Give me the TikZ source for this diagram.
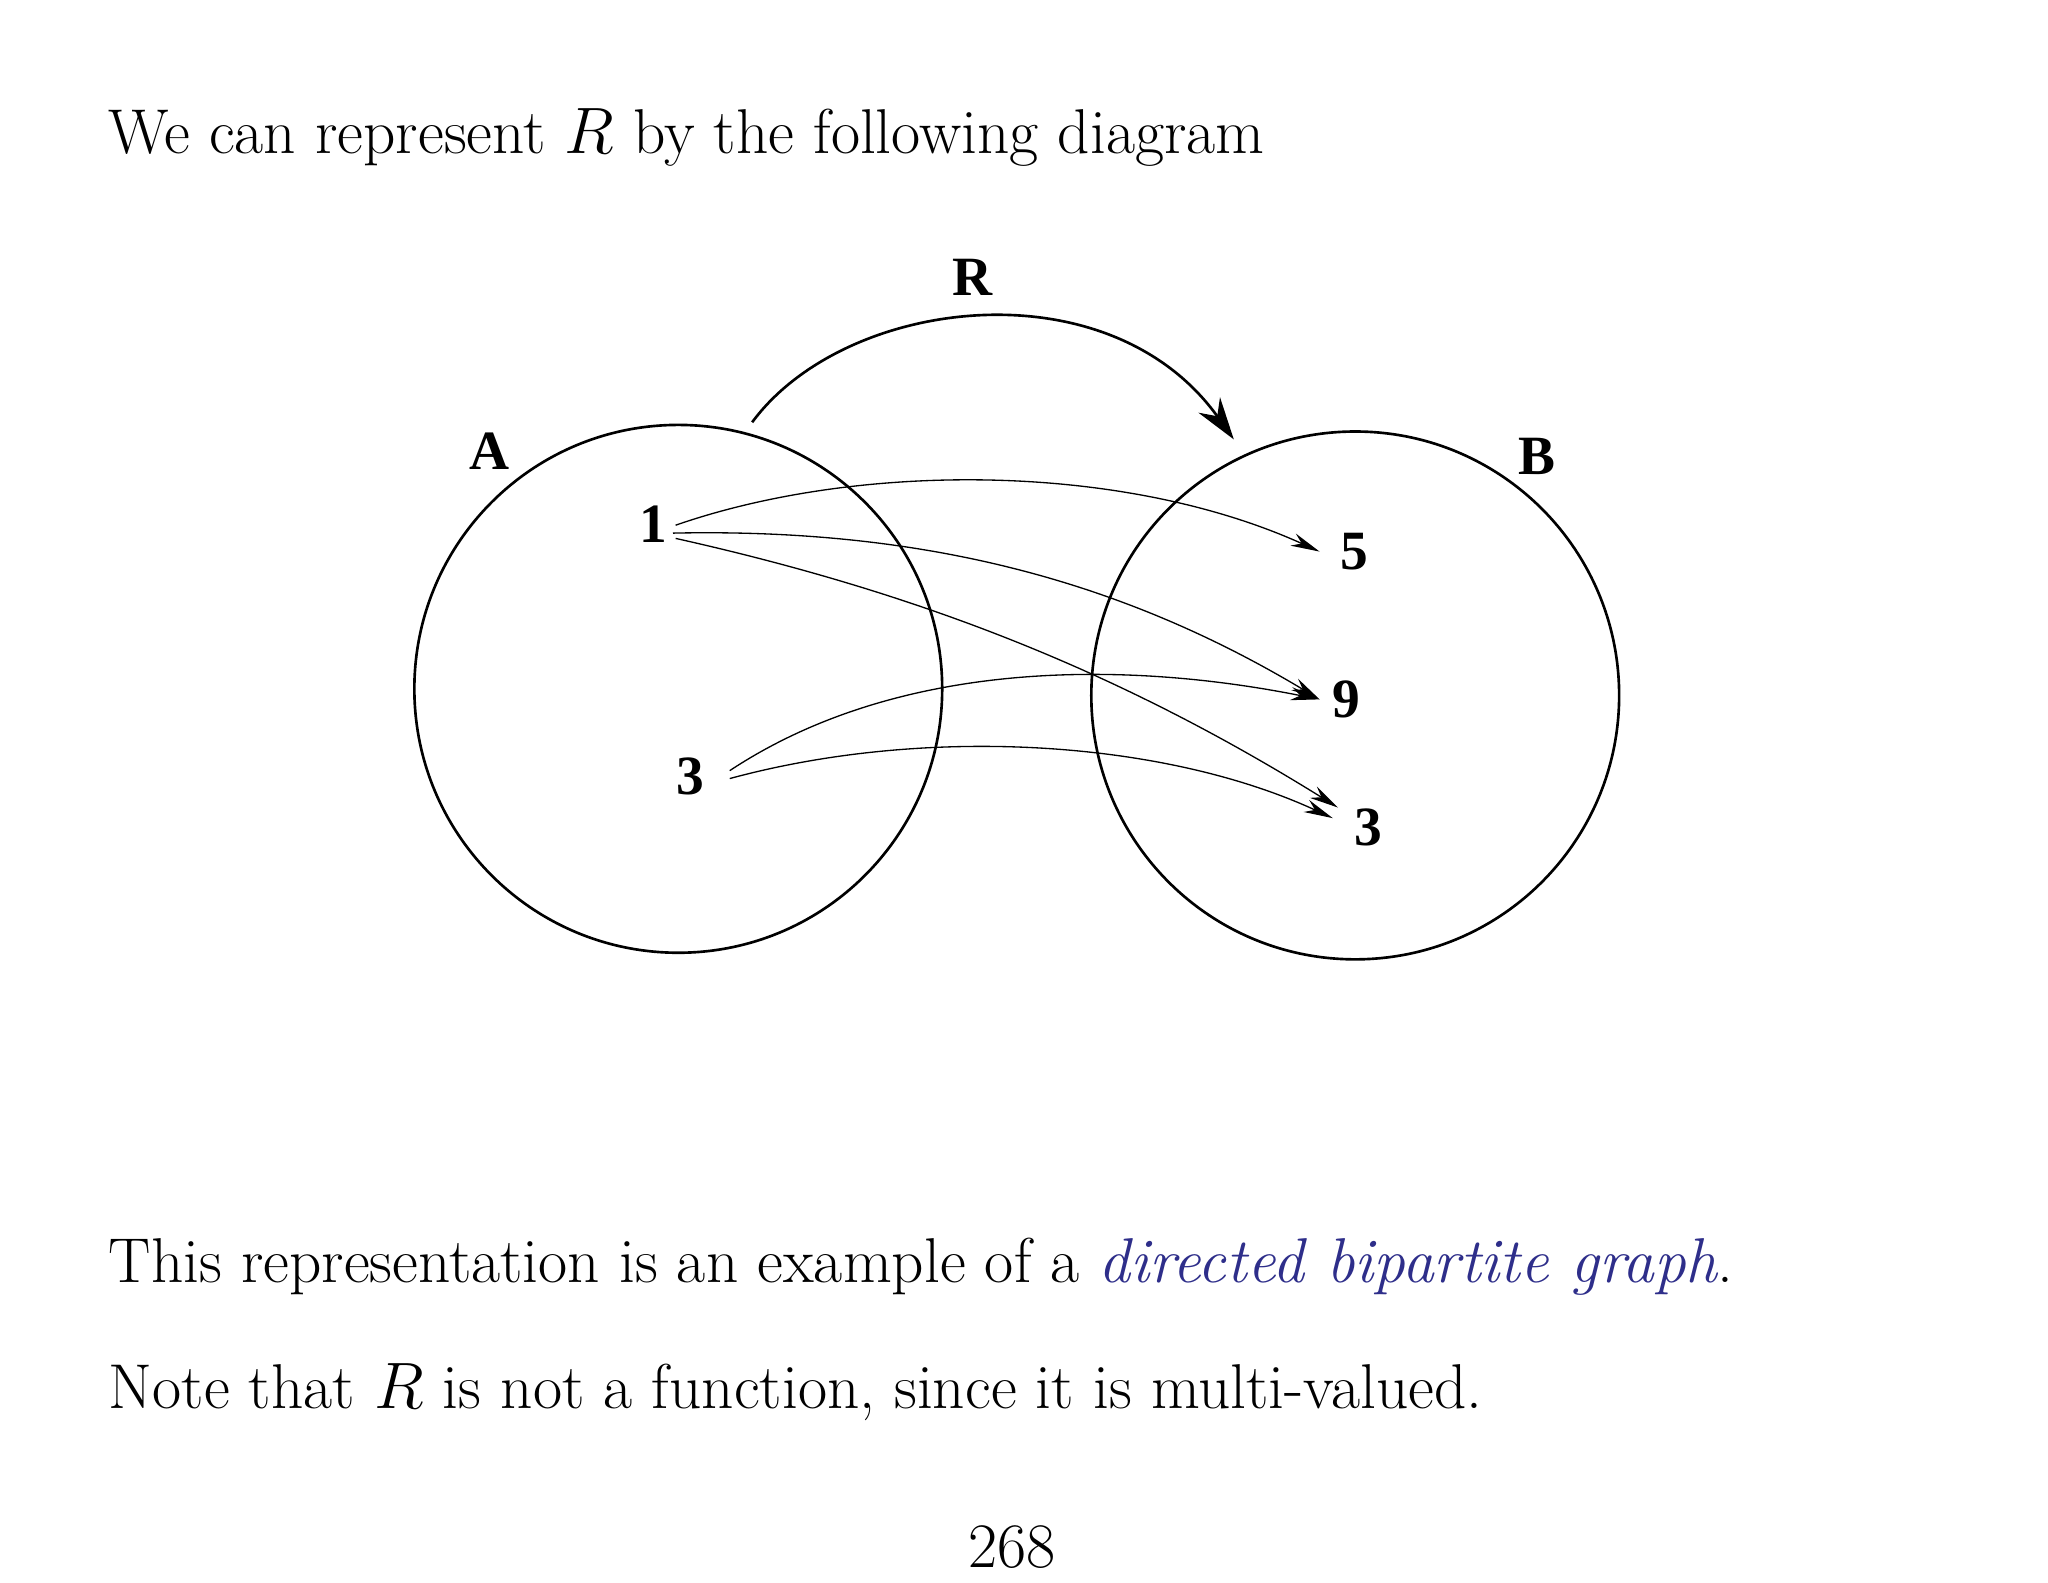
\documentclass[tikz,border=0pt]{standalone}
\usepackage{fontspec}
\newfontfamily\timesb{Liberation Serif}
\usetikzlibrary{arrows.meta}
\definecolor{linkblue}{RGB}{46,46,138}
\begin{document}
\begin{tikzpicture}[x=0.5pt,y=-0.5pt,
  txt/.style={anchor=base west,inner sep=0,font=\fontsize{24}{28}\selectfont},
  lab/.style={inner sep=1pt,font=\timesb\bfseries\fontsize{21}{24}\selectfont},
  set/.style={draw,circle,line width=1pt,minimum size=200pt,inner sep=0},
  rel/.style={line width=0.5pt,-{Stealth[length=11pt,width=5pt]}}]
\useasboundingbox (0,0) rectangle (1552,1199);
\node[txt] (t1) at (82,116) {We can represent $R$ by the following diagram};
\node[set] (A) at (514,522) {};
\node[set] (B) at (1027,527) {};
\node[lab] (la) at (371,342) {A};
\node[lab] (lb) at (1165,346) {B};
\node[lab] (lr) at (737,210) {R};
\coordinate (rs) at (570,320);
\coordinate (re) at (935,333);
\draw[line width=1pt,-{Stealth[length=16pt,width=10pt]}] (rs) .. controls (640,225) and (840,200) .. (re);
\node[lab] (a1) at (495,397) {1};
\node[lab] (a3) at (523,588) {3};
\node[lab] (b5) at (1026,418) {5};
\node[lab] (b9) at (1020,530) {9};
\node[lab] (b3) at (1037,627) {3};
\coordinate (e5) at (1000,418);
\coordinate (e9) at (1000,530);
\coordinate (e3a) at (1014,612);
\coordinate (e3b) at (1010,620);
\draw[rel] (512,398) .. controls (650,350) and (850,350) .. (e5);
\draw[rel] (510,404) .. controls (700,400) and (850,440) .. (e9);
\draw[rel] (512,408) .. controls (700,450) and (850,510) .. (e3a);
\draw[rel] (553,584) .. controls (680,500) and (850,500) .. (e9);
\draw[rel] (553,590) .. controls (700,550) and (880,560) .. (e3b);
\node[txt] (t2) at (82,972) {This representation is an example of a \textcolor{linkblue}{\itshape directed bipartite graph}.};
\node[txt] (t3) at (82,1067) {Note that $R$ is not a function, since it is multi-valued.};
\node[txt,anchor=base] (pg) at (767,1188) {268};
\end{tikzpicture}
\end{document}
